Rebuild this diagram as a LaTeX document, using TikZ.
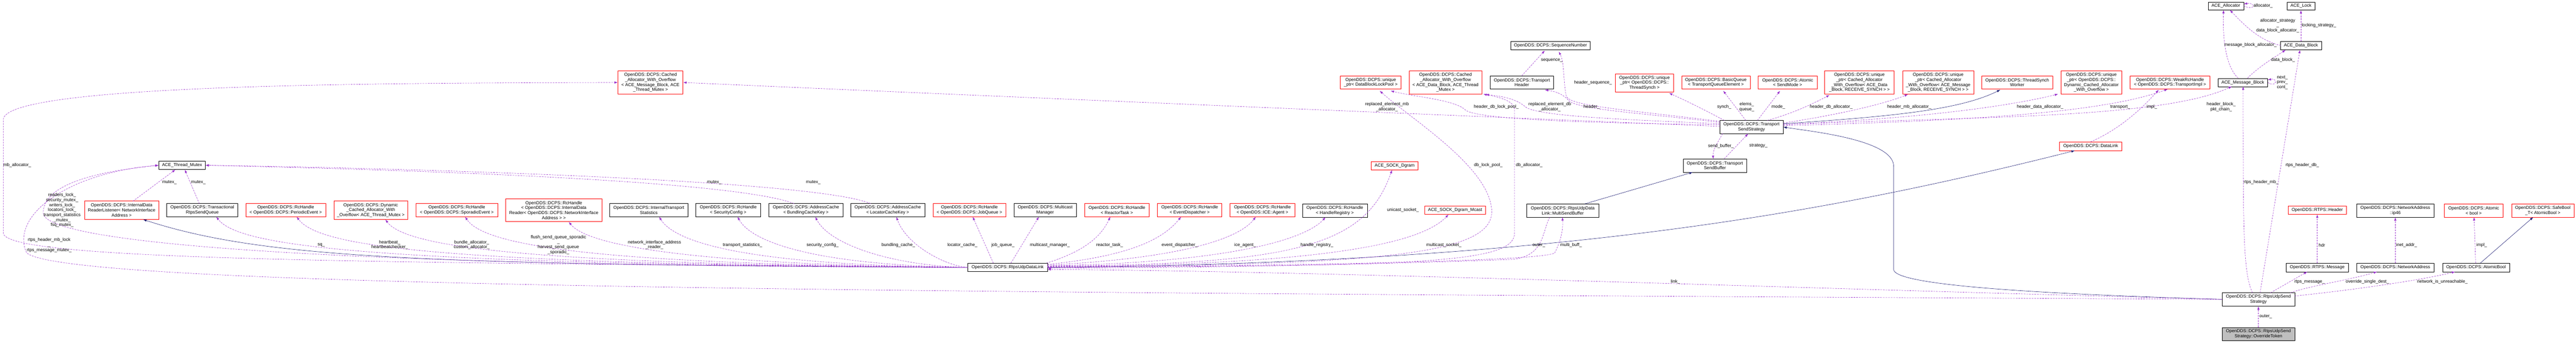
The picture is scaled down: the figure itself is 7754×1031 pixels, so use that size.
\documentclass[tikz,border=0pt]{standalone}
\usepackage{fontspec}
\setmainfont{Liberation Sans}
\usetikzlibrary{arrows.meta}
\definecolor{dep}{HTML}{9A32CD}
\definecolor{inh}{HTML}{191970}
\definecolor{redb}{HTML}{FF0000}
\begin{document}
\begin{tikzpicture}[x=1pt,y=-1pt,
  font=\fontsize{13.3}{15}\selectfont,
  bk/.style={draw=black,line width=1pt,fill=white,align=center,inner sep=0pt},
  rd/.style={draw=redb,line width=1pt,fill=white,align=center,inner sep=0pt},
  gy/.style={draw=black,line width=1pt,fill=black!25,align=center,inner sep=0pt},
  dep/.style={draw=dep,line width=0.9pt,dash pattern=on 5pt off 3pt,-{Latex[length=10pt,width=7pt]}},
  inh/.style={draw=inh,line width=0.9pt,-{Latex[length=10pt,width=7pt]}},
  lbl/.style={align=center,inner sep=0pt,font=\fontsize{13.3}{15}\selectfont}]
\useasboundingbox (0,0) rectangle (7754,1031);
\newcommand{\bx}[7]{\node[#1,minimum width=#4pt,minimum height=#5pt] (#6) at (#2,#3) {#7};}
% nodes
\bx{bk}{548}{497}{140}{25}{tmutex}{ACE\_Thread\_Mutex}
\bx{rd}{366}{632}{223}{55}{idrl}{OpenDDS::DCPS::InternalData\\ReaderListener< NetworkInterface\\Address >}
\bx{bk}{609}{632}{214}{40}{trsq}{OpenDDS::DCPS::Transactional\\RtpsSendQueue}
\bx{rd}{860}{632}{241}{40}{rcpe}{OpenDDS::DCPS::RcHandle\\< OpenDDS::DCPS::PeriodicEvent >}
\bx{rd}{1116}{632}{222}{55}{dcawo}{OpenDDS::DCPS::Dynamic\\\_Cached\_Allocator\_With\\\_Overflow< ACE\_Thread\_Mutex >}
\bx{rd}{1375}{632}{246}{40}{rcse}{OpenDDS::DCPS::RcHandle\\< OpenDDS::DCPS::SporadicEvent >}
\bx{rd}{1667}{632}{291}{69}{rcidr}{OpenDDS::DCPS::RcHandle\\< OpenDDS::DCPS::InternalData\\Reader< OpenDDS::DCPS::NetworkInterface\\Address > >}
\bx{bk}{1953}{632}{235}{40}{its}{OpenDDS::DCPS::InternalTransport\\Statistics}
\bx{bk}{2192}{632}{195}{40}{rcsc}{OpenDDS::DCPS::RcHandle\\< SecurityConfig >}
\bx{bk}{2426}{632}{222}{40}{acb}{OpenDDS::DCPS::AddressCache\\< BundlingCacheKey >}
\bx{bk}{2672}{632}{223}{40}{acl}{OpenDDS::DCPS::AddressCache\\< LocatorCacheKey >}
\bx{rd}{2918}{632}{218}{40}{rcjq}{OpenDDS::DCPS::RcHandle\\< OpenDDS::DCPS::JobQueue >}
\bx{bk}{3146}{632}{188}{40}{mm}{OpenDDS::DCPS::Multicast\\Manager}
\bx{rd}{3362}{632}{194}{40}{rcrt}{OpenDDS::DCPS::RcHandle\\< ReactorTask >}
\bx{rd}{3581}{632}{194}{40}{rced}{OpenDDS::DCPS::RcHandle\\< EventDispatcher >}
\bx{rd}{3800}{632}{195}{40}{rcag}{OpenDDS::DCPS::RcHandle\\< OpenDDS::ICE::Agent >}
\bx{bk}{3033}{804}{240}{25}{dl}{OpenDDS::DCPS::RtpsUdpDataLink}
\bx{rd}{1958}{248}{196}{70}{camb}{OpenDDS::DCPS::Cached\\\_Allocator\_With\_Overflow\\< ACE\_Message\_Block, ACE\\\_Thread\_Mutex >}
\bx{bk}{4667}{137}{239}{25}{seqn}{OpenDDS::DCPS::SequenceNumber}
\bx{rd}{4126}{248}{183}{40}{dblp}{OpenDDS::DCPS::unique\\\_ptr< DataBlockLockPool >}
\bx{rd}{4351}{248}{219}{70}{cadb}{OpenDDS::DCPS::Cached\\\_Allocator\_With\_Overflow\\< ACE\_Data\_Block, ACE\_Thread\\\_Mutex >}
\bx{bk}{4581}{248}{190}{40}{th}{OpenDDS::DCPS::Transport\\Header}
\bx{rd}{4950}{249}{175}{55}{upts}{OpenDDS::DCPS::unique\\\_ptr< OpenDDS::DCPS::\\ThreadSynch >}
\bx{rd}{5165}{248}{206}{40}{bq}{OpenDDS::DCPS::BasicQueue\\< TransportQueueElement >}
\bx{bk}{5272}{382}{191}{40}{tss}{OpenDDS::DCPS::Transport\\SendStrategy}
\bx{bk}{5162}{498}{191}{40}{tsb}{OpenDDS::DCPS::Transport\\SendBuffer}
\bx{rd}{4198}{498}{141}{25}{sd}{ACE\_SOCK\_Dgram}
\bx{bk}{4018}{633}{195}{40}{rchr}{OpenDDS::DCPS::RcHandle\\< HandleRegistry >}
\bx{rd}{4380}{632}{183}{25}{sdm}{ACE\_SOCK\_Dgram\_Mcast}
\bx{bk}{4704}{633}{217}{40}{msb}{OpenDDS::DCPS::RtpsUdpData\\Link::MultiSendBuffer}
\bx{rd}{5381}{248}{178}{40}{asm}{OpenDDS::DCPS::Atomic\\< SendMode >}
\bx{rd}{5597}{248}{209}{70}{upcadb}{OpenDDS::DCPS::unique\\\_ptr< Cached\_Allocator\\\_With\_Overflow< ACE\_Data\\\_Block, RECEIVE\_SYNCH > >}
\bx{rd}{5834}{248}{214}{70}{upcamb}{OpenDDS::DCPS::unique\\\_ptr< Cached\_Allocator\\\_With\_Overflow< ACE\_Message\\\_Block, RECEIVE\_SYNCH > >}
\bx{rd}{6072}{248}{213}{40}{tsw}{OpenDDS::DCPS::ThreadSynch\\Worker}
\bx{rd}{6295}{248}{184}{70}{updca}{OpenDDS::DCPS::unique\\\_ptr< OpenDDS::DCPS::\\Dynamic\_Cached\_Allocator\\\_With\_Overflow >}
\bx{rd}{6532}{248}{240}{40}{wrti}{OpenDDS::DCPS::WeakRcHandle\\< OpenDDS::DCPS::TransportImpl >}
\bx{rd}{6293}{440}{188}{26}{dlk}{OpenDDS::DCPS::DataLink}
\bx{bk}{6700}{18}{107}{24}{aall}{ACE\_Allocator}
\bx{bk}{6926}{18}{84}{24}{alock}{ACE\_Lock}
\bx{bk}{6926}{137}{124}{25}{adb}{ACE\_Data\_Block}
\bx{bk}{6751}{248}{150}{25}{amb}{ACE\_Message\_Block}
\bx{rd}{6975}{632}{176}{25}{rhdr}{OpenDDS::RTPS::Header}
\bx{bk}{7210}{633}{232}{40}{ip}{OpenDDS::DCPS::NetworkAddress\\::ip46}
\bx{rd}{7446}{633}{176}{40}{abool}{OpenDDS::DCPS::Atomic\\< bool >}
\bx{rd}{7654}{633}{188}{40}{sbt}{OpenDDS::DCPS::SafeBool\\\_T< AtomicBool >}
\bx{bk}{6975}{804}{187}{26}{rmsg}{OpenDDS::RTPS::Message}
\bx{bk}{7210}{804}{232}{26}{na}{OpenDDS::DCPS::NetworkAddress}
\bx{bk}{7453}{804}{202}{26}{ab}{OpenDDS::DCPS::AtomicBool}
\bx{bk}{6798}{900}{218}{41}{ss}{OpenDDS::DCPS::RtpsUdpSend\\Strategy}
\bx{gy}{6798}{1004}{218}{39}{ot}{OpenDDS::DCPS::RtpsUdpSend\\Strategy::OverrideToken}
% ---- edges: RtpsUdpSendStrategy area
\draw[dep] (ot.north) -- (ss.south);
\draw[dep] (6780,880) .. controls (6752,820) and (6752,700) .. (6752,260);
\draw[dep] (6803,880) -- (6923,150);
\draw[dep] (6835,880) -- (6945,817);
\draw[dep] (6895,880) .. controls (6950,860) and (7080,840) .. (7155,817);
\draw[dep] (6907,890) .. controls (7100,870) and (7300,840) .. (7390,817);
\draw[dep] (rmsg.north) -- (rhdr.south);
\draw[dep] (na.north) -- (ip.south);
\draw[dep] (7452,791) -- (7447,653);
\draw[inh] (7466,791) -- (7625,653);
\draw[dep] (6737,235) .. controls (6700,200) and (6690,120) .. (6693,30);
\draw[dep] (6765,235) .. controls (6800,200) and (6850,170) .. (6880,150);
\draw[dep] (amb.east) .. controls (6850,265) and (6860,235) .. (6826,240);
\draw[dep] (6865,137) .. controls (6800,120) and (6760,80) .. (6712,30);
\draw[dep] (adb.north) -- (alock.south);
\draw[dep] (aall.east) .. controls (6790,34) and (6790,6) .. (6754,12);
% TransportSendStrategy
\draw[dep] (5368,375) .. controls (5900,350) and (6500,360) .. (6718,260);
\draw[dep] (5368,378) .. controls (5800,365) and (6300,350) .. (6525,268);
\draw[dep] (dlk.north) .. controls (6400,380) and (6470,300) .. (6498,270);
\draw[dep] (5368,374) .. controls (5700,360) and (6000,330) .. (6195,283);
\draw[inh] (5368,372) .. controls (5700,350) and (5900,330) .. (6021,270);
\draw[dep] (5368,370) .. controls (5500,350) and (5650,320) .. (5743,284);
\draw[dep] (5320,362) .. controls (5400,340) and (5460,310) .. (5507,286);
\draw[dep] (5290,362) -- (5358,273);
\draw[dep] (5255,362) -- (5187,273);
\draw[dep] (5190,362) .. controls (5150,340) and (5070,300) .. (5024,280);
\draw[dep] (5177,365) .. controls (4900,330) and (4730,320) .. (4715,290) .. controls (4705,250) and (4710,190) .. (4692,155);
\draw[dep] (th.north) -- (4650,152);
\draw[dep] (5177,368) .. controls (4950,340) and (4740,330) .. (4720,300) .. controls (4700,280) and (4680,275) .. (4650,270);
\draw[dep] (5177,372) .. controls (4900,360) and (4620,350) .. (4590,320) .. controls (4560,295) and (4520,290) .. (4472,284);
\draw[dep] (5177,375) .. controls (4800,370) and (4440,360) .. (4410,330) .. controls (4380,300) and (4250,290) .. (4186,273);
\draw[dep] (5177,380) .. controls (4200,340) and (3000,290) .. (camb.east);
\draw[dep] (tsb.north) ++(28,0) -- (5262,402);
\draw[dep] (5185,402) .. controls (5170,430) and (5155,450) .. (5157,478);
\draw[inh] (4770,613) -- (5095,518);
\draw[inh] (ss.west) .. controls (6000,880) and (5700,850) .. (5700,810) -- (5700,500) .. controls (5700,420) and (5450,395) .. (tss.east);
% RtpsUdpDataLink
\draw[inh] (dl.east) .. controls (4700,790) and (5500,640) .. (6245,453);
\draw[inh] (dl.west) .. controls (1300,795) and (800,780) .. (431,660);
\draw[dep] (dl.west) .. controls (1100,795) and (720,740) .. (651,652);
\draw[dep] (dl.west) .. controls (1300,795) and (960,740) .. (893,652);
\draw[dep] (dl.west) .. controls (1560,795) and (1220,740) .. (1160,660);
\draw[dep] (dl.west) .. controls (1800,795) and (1460,740) .. (1400,652);
\draw[dep] (dl.west) .. controls (2100,797) and (1770,740) .. (1712,667);
\draw[dep] (dl.west) .. controls (2300,798) and (2040,740) .. (1984,652);
\draw[dep] (dl.west) .. controls (2500,798) and (2270,740) .. (2220,652);
\draw[dep] (dl.west) .. controls (2700,800) and (2500,740) .. (2454,652);
\draw[dep] (dl.west) .. controls (2850,800) and (2730,740) .. (2698,652);
\draw[dep] (2990,791) -- (2928,652);
\draw[dep] (3043,791) -- (3127,652);
\draw[dep] (3150,791) .. controls (3250,760) and (3310,720) .. (3342,652);
\draw[dep] (3153,795) .. controls (3400,770) and (3500,720) .. (3555,652);
\draw[dep] (3153,797) .. controls (3500,780) and (3720,730) .. (3780,652);
\draw[dep] (3153,799) .. controls (3700,790) and (3930,720) .. (3990,653);
\draw[dep] (3153,800) .. controls (3900,795) and (4110,740) .. (4190,511);
\draw[dep] (3153,801) .. controls (4000,797) and (4280,730) .. (4360,645);
\draw[dep] (3153,802) .. controls (4200,798) and (4500,760) .. (4490,630) .. controls (4480,500) and (4250,360) .. (4153,273);
\draw[dep] (3153,803) .. controls (4300,800) and (4559,790) .. (4559,700) -- (4559,330) .. controls (4559,300) and (4500,290) .. (4465,283);
\draw[dep] (4665,653) .. controls (4640,700) and (4650,770) .. (4550,780) .. controls (4000,800) and (3500,805) .. (3153,806);
\draw[dep] (3153,805) .. controls (3600,800) and (4650,790) .. (4680,760) .. controls (4700,720) and (4705,690) .. (4703,653);
\draw[dep] (ss.west) .. controls (5500,870) and (4000,815) .. (3153,810);
\draw[dep] (ss.west) .. controls (3000,880) and (200,870) .. (80,760) .. controls (30,650) and (200,520) .. (tmutex.west);
\draw[dep] (dl.west) .. controls (800,800) and (130,720) .. (130,640) .. controls (130,540) and (350,510) .. (tmutex.west);
\draw[dep] (dl.west) .. controls (1000,790) and (10,780) .. (10,700) -- (10,360) .. controls (10,250) and (1200,250) .. (camb.west);
\draw[dep] (400,605) -- (528,510);
\draw[dep] (600,612) -- (556,510);
\draw[dep] (2390,612) .. controls (2200,540) and (1200,510) .. (tmutex.east);
\draw[dep] (2620,612) .. controls (2450,540) and (1200,505) .. (tmutex.east);
% labels
\node[lbl,anchor=west] (l1) at (10,497) {mb\_allocator\_};
\node[lbl] (l2) at (510,549) {mutex\_};
\node[lbl] (l3) at (597,549) {mutex\_};
\node[lbl] (l4) at (187,632) {readers\_lock\_\\security\_mutex\_\\writers\_lock\_\\locators\_lock\_\\transport\_statistics\\\_mutex\_\\fsq\_mutex\_};
\node[lbl] (l5) at (148,737) {rtps\_header\_mb\_lock\\\_\\rtps\_message\_mutex\_};
\node[lbl] (l6) at (967,737) {sq\_};
\node[lbl] (l7) at (1173,736) {heartbeat\_\\heartbeatchecker\_};
\node[lbl] (l8) at (1420,736) {bundle\_allocator\_\\custom\_allocator\_};
\node[lbl] (l9) at (1681,736) {flush\_send\_queue\_sporadic\\\_\\harvest\_send\_queue\\\_sporadic\_};
\node[lbl] (l10) at (1970,736) {network\_interface\_address\\\_reader\_};
\node[lbl] (l11) at (2235,737) {transport\_statistics\_};
\node[lbl] (l12) at (2476,737) {security\_config\_};
\node[lbl] (l13) at (2150,549) {mutex\_};
\node[lbl] (l14) at (2448,549) {mutex\_};
\node[lbl] (l15) at (2704,737) {bundling\_cache\_};
\node[lbl] (l16) at (2897,737) {locator\_cache\_};
\node[lbl] (l17) at (3019,737) {job\_queue\_};
\node[lbl] (l18) at (3160,737) {multicast\_manager\_};
\node[lbl] (l19) at (3340,737) {reactor\_task\_};
\node[lbl] (l20) at (3551,737) {event\_dispatcher\_};
\node[lbl] (l21) at (3748,737) {ice\_agent\_};
\node[lbl] (l22) at (4671,181) {sequence\_};
\node[lbl] (l23) at (4795,248) {header\_sequence\_};
\node[lbl] (l24) at (4175,321) {replaced\_element\_mb\\\_allocator\_};
\node[lbl] (l25) at (4504,322) {header\_db\_lock\_pool\_};
\node[lbl] (l26) at (4665,321) {replaced\_element\_db\\\_allocator\_};
\node[lbl] (l27) at (4791,322) {header\_};
\node[lbl] (l28) at (5190,322) {synch\_};
\node[lbl] (l29) at (5180,439) {send\_buffer\_};
\node[lbl] (l30) at (4480,497) {db\_lock\_pool\_};
\node[lbl] (l31) at (4603,497) {db\_allocator\_};
\node[lbl] (l32) at (4223,632) {unicast\_socket\_};
\node[lbl] (l33) at (4346,737) {multicast\_socket\_};
\node[lbl] (l34) at (3964,737) {handle\_registry\_};
\node[lbl] (l35) at (4632,737) {outer\_};
\node[lbl] (l36) at (4729,737) {multi\_buff\_};
\node[lbl] (l37) at (5043,847) {link\_};
\node[lbl] (l38) at (5258,321) {elems\_\\queue\_};
\node[lbl] (l39) at (5353,322) {mode\_};
\node[lbl] (l40) at (5512,322) {header\_db\_allocator\_};
\node[lbl] (l41) at (5747,322) {header\_mb\_allocator\_};
\node[lbl] (l42) at (6141,322) {header\_data\_allocator\_};
\node[lbl] (l43) at (6382,322) {transport\_};
\node[lbl] (l44) at (6477,322) {impl\_};
\node[lbl] (l45) at (5293,439) {strategy\_};
\node[lbl] (l46) at (6812,18) {allocator\_};
\node[lbl] (l47) at (6856,77) {allocator\_strategy\\\_\\data\_block\_allocator\_};
\node[lbl] (l48) at (6980,77) {locking\_strategy\_};
\node[lbl] (l49) at (6774,136) {message\_block\_allocator\_};
\node[lbl] (l50) at (6872,180) {data\_block\_};
\node[lbl] (l51) at (6870,248) {next\_\\prev\_\\cont\_};
\node[lbl] (l52) at (6686,321) {header\_block\_\\pkt\_chain\_};
\node[lbl] (l53) at (6930,497) {rtps\_header\_db\_};
\node[lbl] (l54) at (6806,548) {rtps\_header\_mb\_};
\node[lbl] (l55) at (6989,737) {hdr};
\node[lbl] (l56) at (7244,737) {inet\_addr\_};
\node[lbl] (l57) at (7470,737) {impl\_};
\node[lbl] (l58) at (6952,847) {rtps\_message\_};
\node[lbl] (l59) at (7126,847) {override\_single\_dest\_};
\node[lbl] (l60) at (7352,847) {network\_is\_unreachable\_};
\node[lbl] (l61) at (6820,952) {outer\_};
\end{tikzpicture}
\end{document}
